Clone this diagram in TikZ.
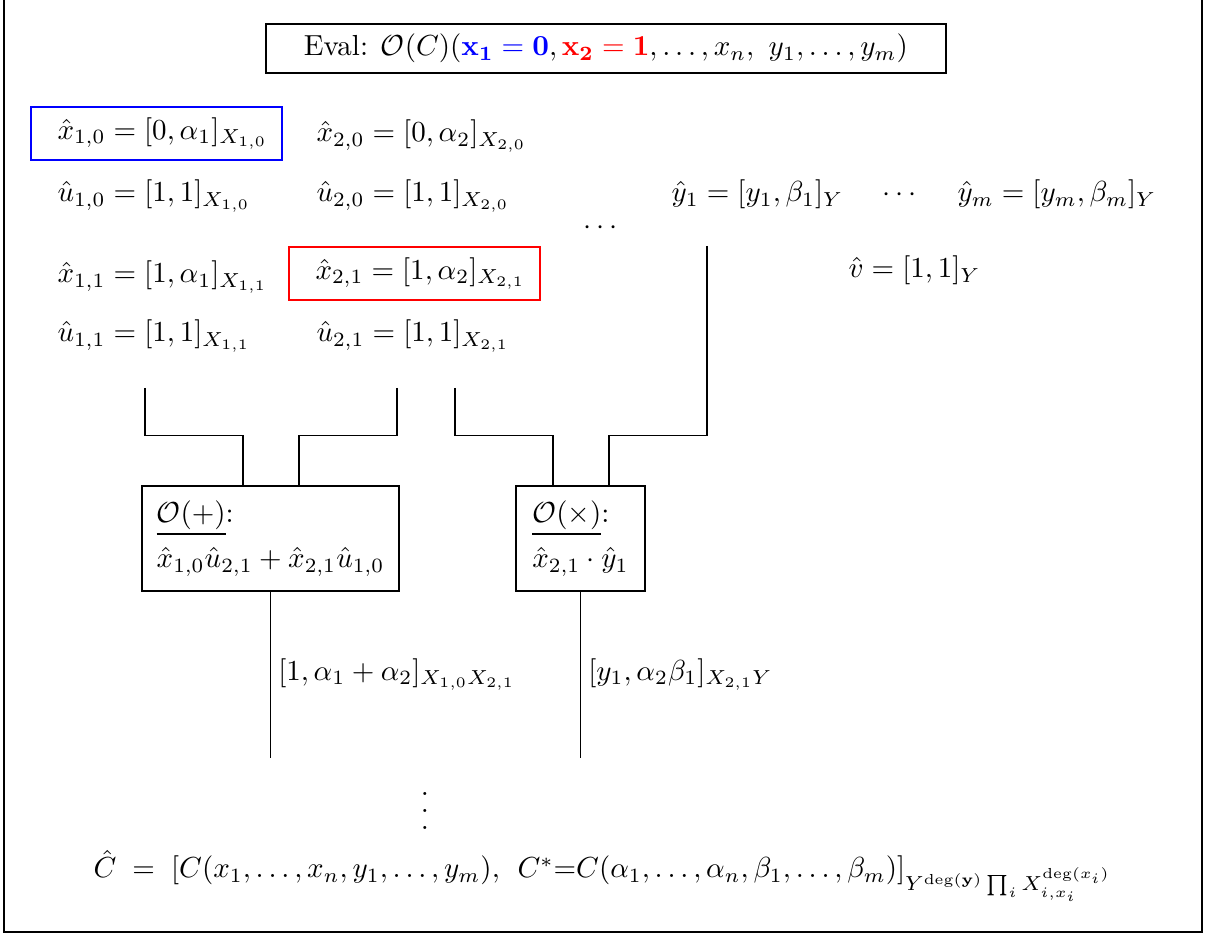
\documentclass[tikz,border=0pt]{standalone}
\usepackage{amsmath,amssymb}
\usetikzlibrary{calc}
\begin{document}
\begin{tikzpicture}[x=0.3448pt,y=-0.3448pt,
  lbl/.style={anchor=base west, inner sep=0pt},
  hl/.style={draw, thick, minimum width=86.5pt, minimum height=18.3pt, inner sep=0pt},
  opbox/.style={draw, align=left, minimum height=36.2pt, inner sep=0pt},
  wire/.style={draw, line width=0.4pt},
  wlabel/.style={right, inner sep=2.5pt}]
\useasboundingbox (0,0) rectangle (1205,934);
\draw (4,-2) -- (4,932) -- (1202,932) -- (1202,-2);

\node[draw, minimum width=234.5pt, minimum height=16.9pt, inner sep=0pt] (eval) at (606,48.5)
  {Eval: $\mathcal{O}(C)(\textcolor{blue}{\mathbf{x_1 = 0}}, \textcolor{red}{\mathbf{x_2 = 1}}, \ldots, x_n,\ y_1, \ldots, y_m)$};

\node[hl, draw=blue] (x10) at (156.5,133.5) {\hspace{4.2pt}$\hat{x}_{1,0} = [0,\alpha_1]_{X_{1,0}}$};
\node[lbl] (x20) at (316,142) {$\hat{x}_{2,0} = [0,\alpha_2]_{X_{2,0}}$};
\node[lbl] (u10) at (57,202) {$\hat{u}_{1,0} = [1,1]_{X_{1,0}}$};
\node[lbl] (u20) at (316,202) {$\hat{u}_{2,0} = [1,1]_{X_{2,0}}$};
\node[lbl] (x11) at (57,283) {$\hat{x}_{1,1} = [1,\alpha_1]_{X_{1,1}}$};
\node[hl, draw=red] (x21) at (414.5,273.5) {\hspace{4.2pt}$\hat{x}_{2,1} = [1,\alpha_2]_{X_{2,1}}$};
\node[lbl] (u11) at (57,342) {$\hat{u}_{1,1} = [1,1]_{X_{1,1}}$};
\node[lbl] (u21) at (316,342) {$\hat{u}_{2,1} = [1,1]_{X_{2,1}}$};

\node[lbl] (y1) at (671,202) {$\hat{y}_1 = [y_1,\beta_1]_Y$};
\node[anchor=base, inner sep=0pt] (ydots) at (902,202) {$\cdots$};
\node[lbl] (ym) at (957,202) {$\hat{y}_m = [y_m,\beta_m]_Y$};
\node[lbl] (v) at (848,278) {$\hat{v} = [1,1]_Y$};
\node[anchor=base, inner sep=0pt] (mdots) at (603,235) {$\cdots$};

\node[opbox, minimum width=88.6pt] (plus) at (270.5,538.5)
  {\underline{$\mathcal{O}(+)$}:\\[3.5pt] $\hat{x}_{1,0}\hat{u}_{2,1} + \hat{x}_{2,1}\hat{u}_{1,0}$};
\node[opbox, minimum width=44.5pt] (times) at (580.5,538.5)
  {\underline{$\mathcal{O}(\times)$}:\\[3.5pt] $\hat{x}_{2,1}\cdot\hat{y}_1$};

\coordinate (a1) at (145,388);
\coordinate (a2) at (397,388);
\coordinate (b1) at (455,388);
\coordinate (b2) at (707,246);
\coordinate (p1) at ($(plus.north)+(-27.5,0)$);
\coordinate (p2) at ($(plus.north)+(28.5,0)$);
\coordinate (t1) at ($(times.north)+(-27.5,0)$);
\coordinate (t2) at ($(times.north)+(28.5,0)$);
\draw[wire] (a1) |- ($(p1)+(0,-50)$) -- (p1);
\draw[wire] (a2) |- ($(p2)+(0,-50)$) -- (p2);
\draw[wire] (b1) |- ($(t1)+(0,-50)$) -- (t1);
\draw[wire] (b2) |- ($(t2)+(0,-50)$) -- (t2);

\coordinate (po) at ($(plus.south)+(0,166)$);
\coordinate (to) at ($(times.south)+(0,166)$);
\draw[wire] (plus.south) -- (po) node[midway, wlabel] (pl) {$[1,\alpha_1+\alpha_2]_{X_{1,0}X_{2,1}}$};
\draw[wire] (times.south) -- (to) node[midway, wlabel] (tl) {$[y_1,\alpha_2\beta_1]_{X_{2,1}Y}$};

\node[inner sep=0pt] (vd) at (425,811) {\vbox{\baselineskip=5.8pt \hbox{.}\hbox{.}\hbox{.}}};

\node[anchor=base, inner sep=0pt] (res) at (602.5,878)
  {$\hat{C} \;=\; [C(x_1,\ldots,x_n,y_1,\ldots,y_m),\;\, C^*{=}C(\alpha_1,\ldots,\alpha_n,\beta_1,\ldots,\beta_m)]_{Y^{\deg(\mathbf{y})}\prod_i X_{i,x_i}^{\deg(x_i)}}$};
\end{tikzpicture}
\end{document}
